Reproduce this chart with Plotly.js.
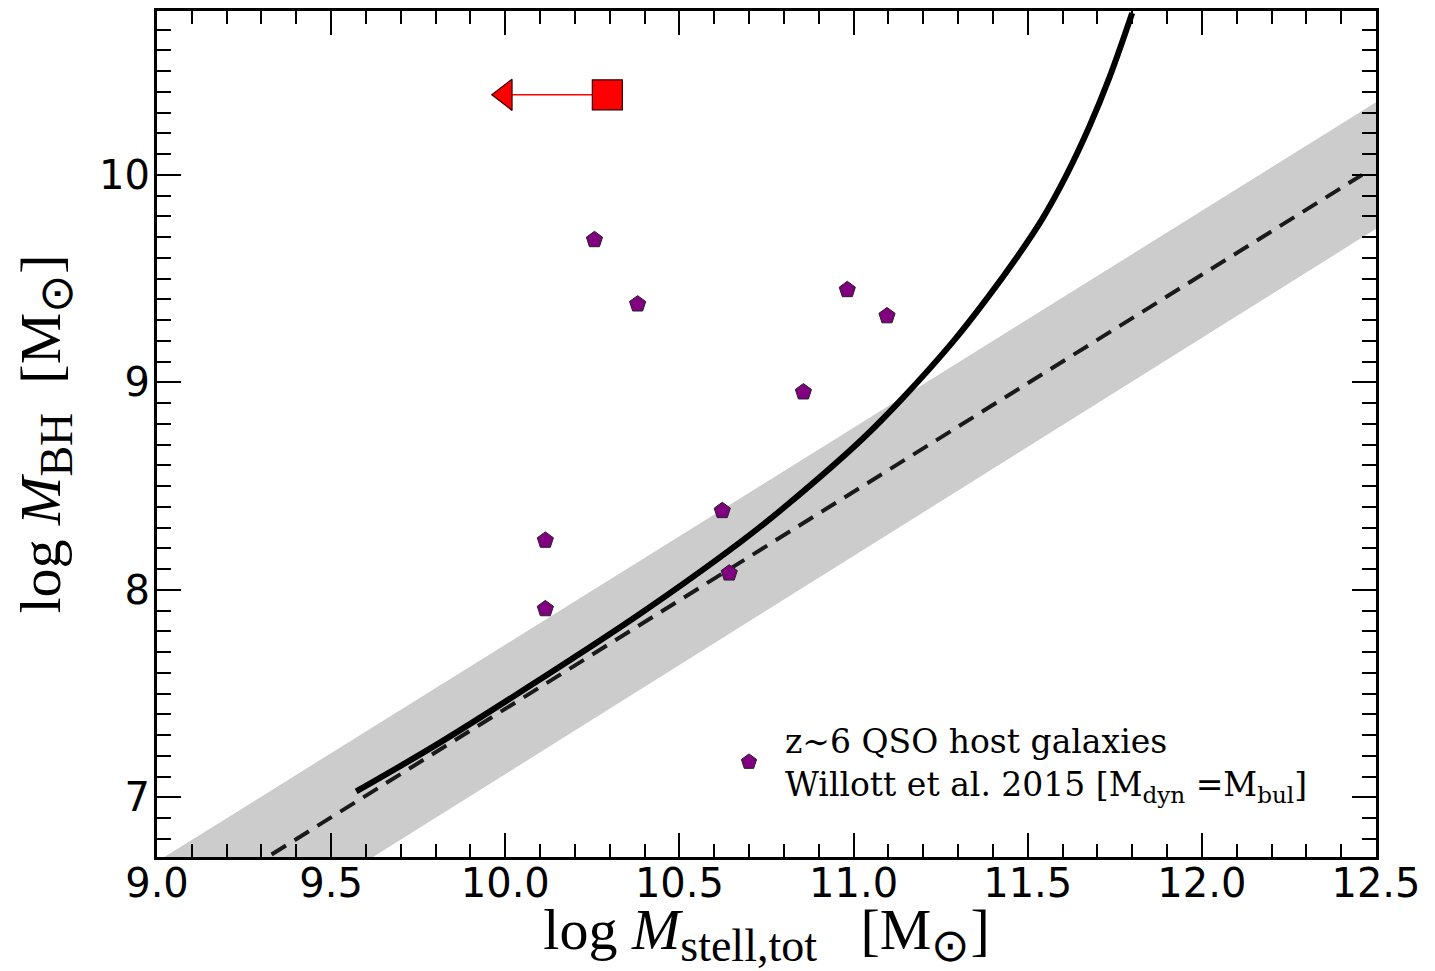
<!DOCTYPE html>
<html>
<head>
<meta charset="utf-8">
<script src="https://cdn.plot.ly/plotly-3.0.1.min.js"></script>
<style>html,body{margin:0;padding:0;background:#fff;}</style>
</head>
<body>
<div id="chart" style="width:1435px;height:971px;"></div>
<script>
// z~6 QSO host galaxies (Willott et al. 2015)
const qsoX = [10.256, 10.380, 10.982, 11.096, 10.856, 10.115, 10.115, 10.623, 10.643];
const qsoY = [9.687, 9.377, 9.446, 9.320, 8.953, 8.238, 7.908, 8.381, 8.080];

// upper-limit source: measured value and limit arrow end
const limitX = [10.293, 10.0];
const limitY = [10.386, 10.386];

// local relation (dashed) and its scatter band
const relX = [9.0, 12.46];
const relY = [6.38, 10.0];
const bandX = [9.0, 12.5];
const bandUpper = [6.69, 10.35];
const bandLower = [6.06, 9.74];

// model curve (solid)
const curveX = [9.572, 9.811, 10.098, 10.385, 10.672, 10.807, 11.026, 11.141, 11.285, 11.381, 11.476, 11.542, 11.610, 11.677, 11.735, 11.800];
const curveY = [7.028, 7.262, 7.566, 7.882, 8.226, 8.406, 8.728, 8.924, 9.195, 9.400, 9.620, 9.788, 9.995, 10.233, 10.471, 10.780];

const SUB = s => '<sub><span style="font-size:46px">' + s + '</span></sub>';
const xTitle = 'log <i>M</i>' + SUB('stell,tot') + '\u2002\u2005[M' + SUB('\u2299') + ']';
const yTitle = 'log <i>M</i>' + SUB('BH') + '\u2002[M' + SUB('\u2299') + ']';
const legendText = 'z\u223C6 QSO host galaxies<br>Willott et al. 2015 [M<sub>dyn</sub> =M<sub>bul</sub>]';

const traces = [
  {x: bandX, y: bandLower, mode: 'lines', line: {width: 0, color: 'rgba(0,0,0,0)'}, showlegend: false, hoverinfo: 'skip'},
  {x: bandX, y: bandUpper, mode: 'lines', line: {width: 0, color: 'rgba(0,0,0,0)'}, fill: 'tonexty', fillcolor: '#cccccc', showlegend: false, hoverinfo: 'skip'},
  {x: relX, y: relY, mode: 'lines', line: {color: '#1a1a1a', width: 4, dash: '17px,10px'}, showlegend: false},
  {x: curveX, y: curveY, mode: 'lines', line: {color: 'black', width: 6, shape: 'spline', smoothing: 1}, showlegend: false},
  {x: qsoX, y: qsoY, mode: 'markers', name: legendText,
   marker: {symbol: 'pentagon', size: 17, color: '#800080', opacity: 1, line: {color: '#222222', width: 1}}, showlegend: true},
  {x: limitX, y: limitY, mode: 'lines+markers', showlegend: false,
   line: {color: 'red', width: 1.5},
   marker: {symbol: ['square', 'triangle-left'], size: [30, 27], color: 'red', opacity: 1, line: {color: '#330000', width: 1.2}}}
];

const tickFont = {family: 'DejaVu Sans', size: 40, color: 'black'};
const axisCommon = {
  ticks: 'inside', ticklen: 24, tickwidth: 2, tickcolor: 'black',
  showline: true, linewidth: 3, linecolor: 'black', mirror: 'allticks',
  showgrid: false, zeroline: false, tickfont: tickFont, automargin: false
};

const layout = {
  width: 1435, height: 971,
  margin: {l: 157, r: 59, t: 11, b: 114},
  paper_bgcolor: 'white', plot_bgcolor: 'white',
  xaxis: Object.assign({}, axisCommon, {
    range: [9, 12.5], tick0: 9, dtick: 0.5, tickformat: '.1f', ticklabelstandoff: -11,
    minor: {dtick: 0.1, ticks: 'inside', ticklen: 13, tickwidth: 2, tickcolor: 'black', showgrid: false},
    title: {text: xTitle, font: {family: 'Liberation Serif', size: 58, color: 'black'}, standoff: 18}
  }),
  yaxis: Object.assign({}, axisCommon, {
    range: [6.712, 10.79], tick0: 7, dtick: 1, ticklabelstandoff: -4,
    minor: {dtick: 0.1, ticks: 'inside', ticklen: 14, tickwidth: 2, tickcolor: 'black', showgrid: false},
    title: {text: yTitle, font: {family: 'Liberation Serif', size: 58, color: 'black'}, standoff: 20}
  }),
  showlegend: true,
  legend: {x: 0.4561, y: 0.1123, xanchor: 'left', yanchor: 'middle', bgcolor: 'rgba(0,0,0,0)',
           font: {family: 'DejaVu Serif', size: 33, color: 'black'}, itemwidth: 62}
};

Plotly.newPlot('chart', traces, layout, {displayModeBar: false, staticPlot: true});
</script>
</body>
</html>
